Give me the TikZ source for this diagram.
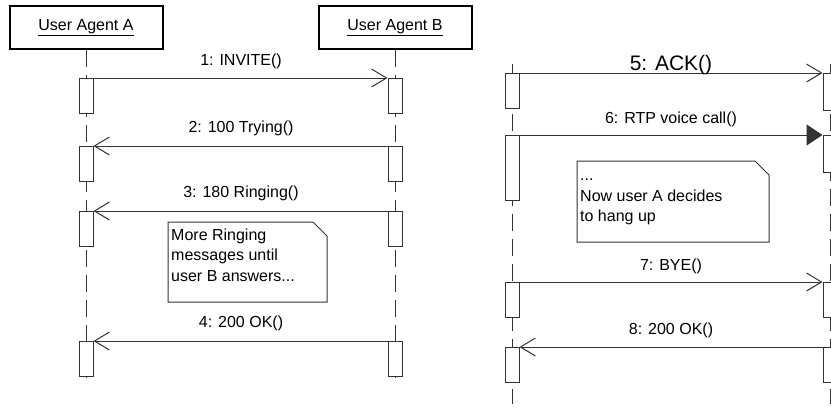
\documentclass[tikz,border=0pt]{standalone}
\usepackage{fontspec}
\setmainfont{Liberation Sans}
\usetikzlibrary{arrows.meta}
\begin{document}
\begin{tikzpicture}[x=1pt,y=-1pt,
  ln/.style={line width=1pt, draw=black!80},
  lifeline/.style={ln, dash pattern=on 17pt off 8pt},
  actbox/.style={ln, fill=white, rectangle, minimum width=14pt,
    minimum height=#1, inner sep=0pt, anchor=north},
  actbox/.default=35pt,
  headbox/.style={draw=black, line width=2pt, fill=white, minimum width=153pt,
    minimum height=43pt, inner sep=0pt, font=\fontsize{16}{19}\selectfont},
  msg/.style={ln, -{Straight Barb[length=15pt,width=18pt]}},
  sync/.style={ln, -{Triangle[length=16pt,width=21pt]}},
  msglabel/.style={anchor=base, inner sep=0pt, font=\fontsize{16}{19}\selectfont},
  notetext/.style={anchor=base west, inner sep=0pt, font=\fontsize{16}{19}\selectfont},
  noteshape/.style={ln, fill=white}
]
\useasboundingbox (0,0) rectangle (831,408);

% ---------- left diagram: call set-up ----------
\node[headbox] (hA) at (86,27.5) {\underline{User Agent A}};
\node[headbox] (hB) at (395,27.5) {\underline{User Agent B}};
\coordinate (endA) at (86,378);
\coordinate (endB) at (395,378);
\draw[lifeline] (hA.south) -- (endA);
\draw[lifeline] (hB.south) -- (endB);

\node[actbox] (a1) at (86,78) {};
\node[actbox] (b1) at (395,78) {};
\node[actbox] (a2) at (86,146) {};
\node[actbox] (b2) at (395,146) {};
\node[actbox] (a3) at (86,211) {};
\node[actbox] (b3) at (395,211) {};
\node[actbox] (a4) at (86,341) {};
\node[actbox] (b4) at (395,341) {};

\draw[msg] (a1.north east) -- (b1.north west);
\draw[msg] (b2.north west) -- (a2.north east);
\draw[msg] (b3.north west) -- (a3.north east);
\draw[msg] (b4.north west) -- (a4.north east);

\node[msglabel] (l1) at (241,65) {1: INVITE()};
\node[msglabel] (l2) at (241,132) {2: 100 Trying()};
\node[msglabel] (l3) at (241,197) {3: 180 Ringing()};
\node[msglabel] (l4) at (241,327) {4: 200 OK()};

% note between the ringing and the answer
\draw[noteshape] (168,222) -- (313,222) -- (327,236) -- (327,302) -- (168,302) -- cycle;
\node[notetext] (n1a) at (171,240) {More Ringing};
\node[notetext] (n1b) at (171,260) {messages until};
\node[notetext] (n1c) at (171,281) {user B answers...};

% ---------- right diagram: call and hang-up ----------
\coordinate (topA2) at (512,64);
\coordinate (endA2) at (512,404);
\coordinate (topB2) at (830,64);
\coordinate (endB2) at (830,404);
\draw[lifeline] (topA2) -- (endA2);
\draw[lifeline] (topB2) -- (endB2);

\node[actbox] (a5) at (512,73) {};
\node[actbox=37pt] (b5) at (830,73) {};
\node[actbox=65pt] (a6) at (512,135) {};
\node[actbox=37pt] (b6) at (830,135) {};
\node[actbox] (a7) at (512,282) {};
\node[actbox] (b7) at (830,282) {};
\node[actbox] (a8) at (512,347) {};
\node[actbox] (b8) at (830,347) {};

\draw[msg] (a5.north east) -- (b5.north west);
\draw[sync] (a6.north east) -- (b6.north west);
\draw[msg] (a7.north east) -- (b7.north west);
\draw[msg] (b8.north west) -- (a8.north east);

\node[msglabel, font=\fontsize{21}{25}\selectfont] (l5) at (671,70) {5: ACK()};
\node[msglabel] (l6) at (671,123) {6: RTP voice call()};
\node[msglabel] (l7) at (671,270) {7: BYE()};
\node[msglabel] (l8) at (671,334) {8: 200 OK()};

% note before the hang-up
\draw[noteshape] (577,161) -- (755,161) -- (769,175) -- (769,242) -- (577,242) -- cycle;
\node[notetext] (n2a) at (580,180) {...};
\node[notetext] (n2b) at (580,201) {Now user A decides};
\node[notetext] (n2c) at (580,221) {to hang up};
\end{tikzpicture}
\end{document}
